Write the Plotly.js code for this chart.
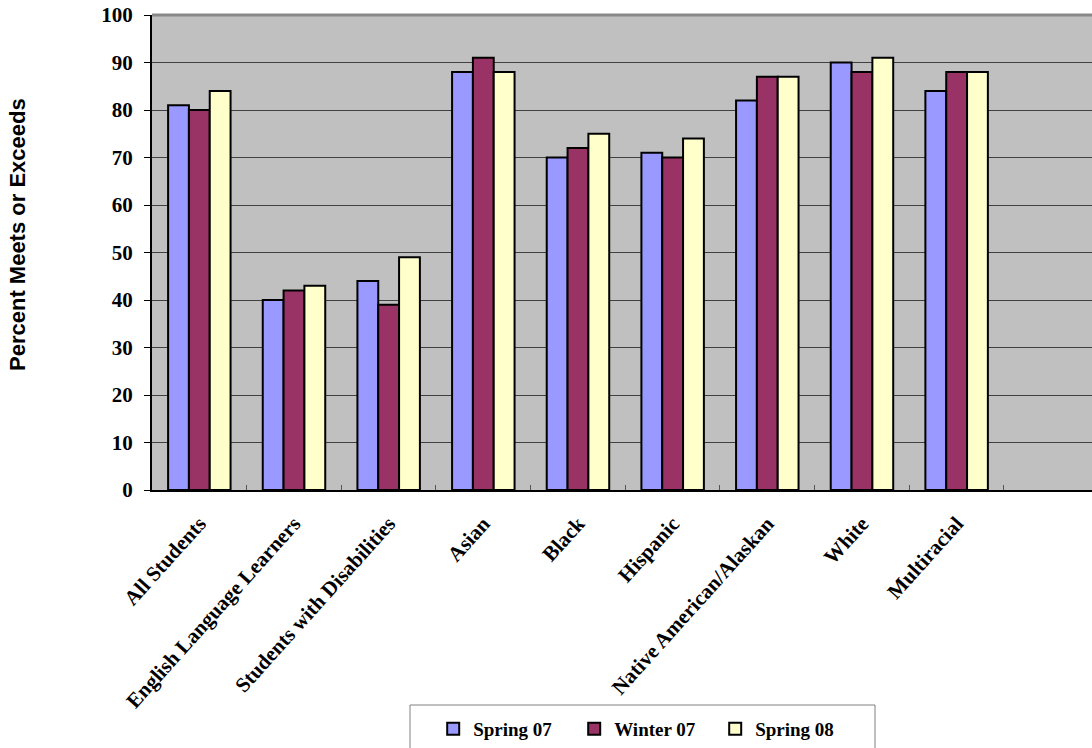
<!DOCTYPE html>
<html>
<head>
<meta charset="utf-8">
<script src="https://cdn.plot.ly/plotly-3.0.1.min.js"></script>
<style>html,body{margin:0;padding:0;background:#fff;}#chart{width:1092px;height:748px;}</style>
</head>
<body>
<div id="chart"></div>
<script>
const categories = ["All Students", "English Language Learners", "Students with Disabilities", "Asian", "Black", "Hispanic", "Native American/Alaskan", "White", "Multiracial"];
const spring07 = [81, 40, 44, 88, 70, 71, 82, 90, 84];
const winter07 = [80, 42, 39, 91, 72, 70, 87, 88, 88];
const spring08 = [84, 43, 49, 88, 75, 74, 87, 91, 88];
const seriesNames = ["Spring 07", "Winter 07", "Spring 08"];
const colors = ["#9999FF", "#993366", "#FFFFCC"];
const yTicks = [0, 10, 20, 30, 40, 50, 60, 70, 80, 90, 100];
const yTitle = "Percent Meets or Exceeds";

const serif = "Liberation Serif, Times New Roman, serif";
const values = [spring07, winter07, spring08];
const traces = values.map((v, i) => ({
  type: "bar",
  x: categories,
  y: v,
  name: seriesNames[i],
  marker: {color: colors[i], line: {color: "#000000", width: 2}},
  hoverinfo: "x+y+name"
}));

const layout = {
  width: 1092, height: 748,
  margin: {l: 152, r: 0, t: 15, b: 258},
  paper_bgcolor: "#ffffff",
  plot_bgcolor: "#C0C0C0",
  barmode: "group",
  bargap: 0.34,
  bargroupgap: 0,
  showlegend: true,
  legend: {
    orientation: "h",
    xref: "container", yref: "container",
    x: 0.3967, xanchor: "left",
    y: 1 - 710/748, yanchor: "top",
    font: {family: serif, size: 19, color: "#000"},
    bgcolor: "rgba(0,0,0,0)",
    borderwidth: 0,
    itemwidth: 30,
    entrywidth: 96,
    traceorder: "normal"
  },
  xaxis: {
    type: "category",
    range: [-0.5, 9.43],
    tickangle: -48,
    tickfont: {family: serif, size: 21, color: "#000"},
    ticklabelstandoff: 11,
    ticks: "inside",
    tickson: "boundaries",
    ticklen: 5,
    tickcolor: "#555",
    tickwidth: 1,
    showline: true,
    linecolor: "#000",
    linewidth: 2,
    showgrid: false,
    fixedrange: true
  },
  yaxis: {
    range: [0, 100],
    tickvals: yTicks,
    tickfont: {family: serif, size: 21, color: "#000"},
    ticklabelstandoff: 7,
    ticks: "outside",
    ticklen: 6,
    tickcolor: "#000",
    tickwidth: 1,
    showline: true,
    linecolor: "#000",
    linewidth: 2,
    showgrid: true,
    gridcolor: "#404040",
    gridwidth: 1,
    zeroline: false,
    automargin: false,
    fixedrange: true
  },
  annotations: [
    {text: "<b>" + yTitle + "</b>", xref: "paper", yref: "paper", x: (17-152)/940, y: (490-235)/475,
     xanchor: "center", yanchor: "middle", textangle: -90, showarrow: false,
     font: {family: "Liberation Sans, Arial, sans-serif", size: 22, color: "#000"}}
  ],
  shapes: [
    {type: "line", xref: "paper", yref: "paper", x0: 0, x1: 1, y0: 1, y1: 1, line: {color: "#888888", width: 3}},
    {type: "rect", xref: "paper", yref: "paper", x0: (410-152)/940, x1: (875-152)/940, y0: (490-705)/475, y1: (490-760)/475, line: {color: "#808080", width: 1}, fillcolor: "rgba(0,0,0,0)", layer: "above"}
  ]
};

Plotly.newPlot("chart", traces, layout, {displayModeBar: false, staticPlot: true}).then(() => {
  document.querySelectorAll(".xtick text, .ytick text, .legendtext").forEach(t => t.style.fontWeight = "bold");
});
</script>
</body>
</html>
